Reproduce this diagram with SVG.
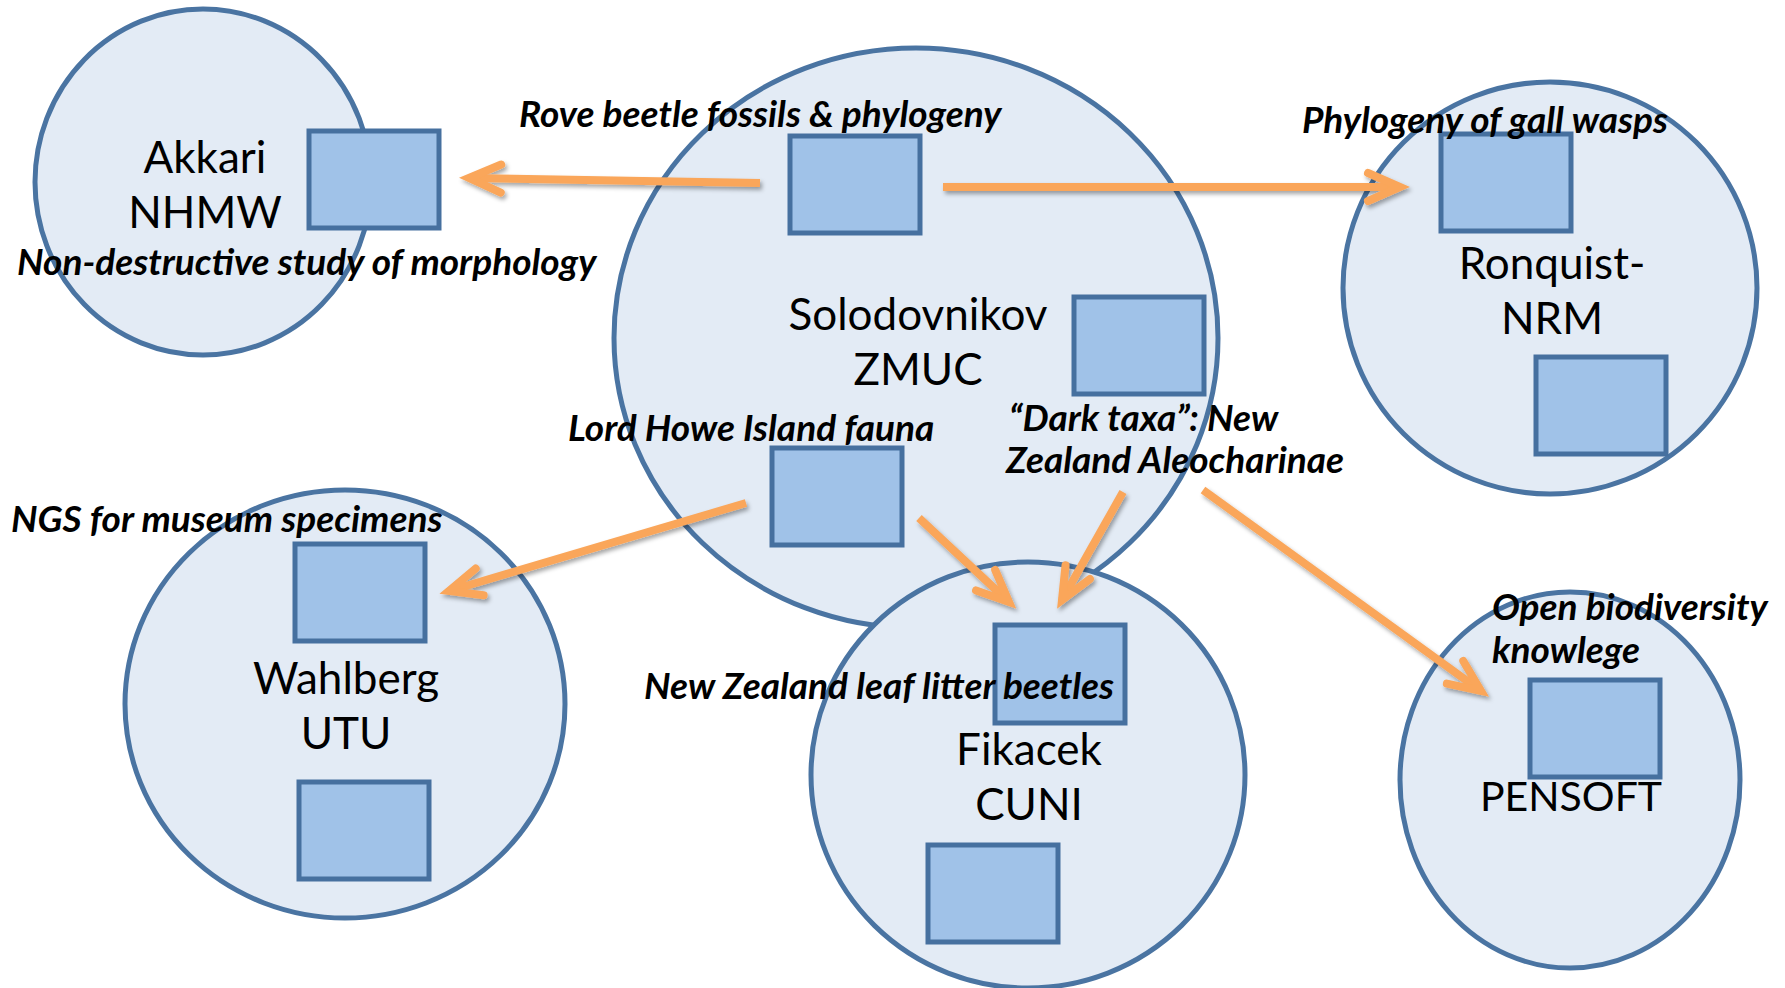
<svg xmlns="http://www.w3.org/2000/svg" width="1785" height="988" viewBox="0 0 1785 988">
<style>
.org{fill:#E3EBF5;stroke:#4A74A2;stroke-width:5}
.box{fill:#A0C2E8;stroke:#46709F;stroke-width:5}
.name{font-family:Lato,"Open Sans",sans-serif;font-size:44px;fill:#000;text-anchor:middle}
.lab{font-family:Lato,"Open Sans",sans-serif;font-size:37px;font-weight:bold;font-style:italic;fill:#000}
.arr{fill:none;stroke:#FAA65A;stroke-width:8;marker-end:url(#head);filter:url(#sh)}
</style>
<defs>
<filter id="sh" filterUnits="userSpaceOnUse" x="0" y="0" width="1785" height="988">
<feDropShadow dx="2" dy="3" stdDeviation="2" flood-color="#000" flood-opacity="0.35"/>
</filter>
<marker id="head" markerUnits="userSpaceOnUse" viewBox="-45 -25 60 50" markerWidth="60" markerHeight="50" refX="0" refY="0" orient="auto" overflow="visible">
<path d="M -32 -14 L 0 0 L -32 14" fill="none" stroke="#FAA65A" stroke-width="8" stroke-linecap="round" stroke-linejoin="miter"/>
</marker>
</defs>
<g id="akkari">
<ellipse class="org" cx="203" cy="182" rx="168" ry="173"/>
<rect class="box" x="309" y="131" width="130" height="97"/>
<text class="name" x="205" y="173">Akkari</text>
<text class="name" x="205" y="228">NHMW</text>
</g>
<g id="solodovnikov">
<ellipse class="org" cx="916" cy="338" rx="302" ry="290"/>
<rect class="box" x="790" y="136" width="130" height="97"/>
<rect class="box" x="1074" y="297" width="130" height="97"/>
<rect class="box" x="772" y="448" width="130" height="97"/>
<text class="name" x="918" y="330">Solodovnikov</text>
<text class="name" x="918" y="385">ZMUC</text>
</g>
<g id="ronquist">
<ellipse class="org" cx="1550" cy="288" rx="207" ry="206"/>
<rect class="box" x="1441" y="134" width="130" height="97"/>
<rect class="box" x="1536" y="357" width="130" height="97"/>
<text class="name" x="1552" y="279">Ronquist-</text>
<text class="name" x="1552" y="334">NRM</text>
</g>
<g id="wahlberg">
<ellipse class="org" cx="345" cy="704" rx="220" ry="214"/>
<rect class="box" x="295" y="544" width="130" height="97"/>
<rect class="box" x="299" y="782" width="130" height="97"/>
<text class="name" x="346" y="694">Wahlberg</text>
<text class="name" x="346" y="749">UTU</text>
</g>
<g id="fikacek">
<ellipse class="org" cx="1028" cy="775" rx="217" ry="213"/>
<rect class="box" x="995" y="625" width="130" height="98"/>
<rect class="box" x="928" y="845" width="130" height="97"/>
<text class="name" x="1029" y="765">Fikacek</text>
<text class="name" x="1029" y="820">CUNI</text>
</g>
<g id="pensoft">
<ellipse class="org" cx="1570" cy="780" rx="170" ry="188"/>
<rect class="box" x="1530" y="680" width="130" height="97"/>
<text class="name" x="1571" y="811" style="font-size:41px">PENSOFT</text>
</g>
<g id="connectors">
<path class="arr" d="M 760 183 L 469 178"/>
<path class="arr" d="M 943 187 L 1400 187"/>
<path class="arr" d="M 746 503 L 449 591"/>
<path class="arr" d="M 919 518 L 1009 602"/>
<path class="arr" d="M 1123 492 L 1062 600"/>
<path class="arr" d="M 1203 490 L 1481 691"/>
</g>
<g id="labels">
<text class="lab" x="519" y="127">Rove beetle fossils &amp; phylogeny</text>
<text class="lab" x="17" y="275">Non-destructive study of morphology</text>
<text class="lab" x="1302" y="133">Phylogeny of gall wasps</text>
<text class="lab" x="568" y="441">Lord Howe Island fauna</text>
<text class="lab" x="1009" y="431">“Dark taxa”: New</text>
<text class="lab" x="1006" y="473">Zealand Aleocharinae</text>
<text class="lab" x="11" y="532">NGS for museum specimens</text>
<text class="lab" x="644" y="699">New Zealand leaf litter beetles</text>
<text class="lab" x="1492" y="620">Open biodiversity</text>
<text class="lab" x="1492" y="663">knowlege</text>
</g>
</svg>
